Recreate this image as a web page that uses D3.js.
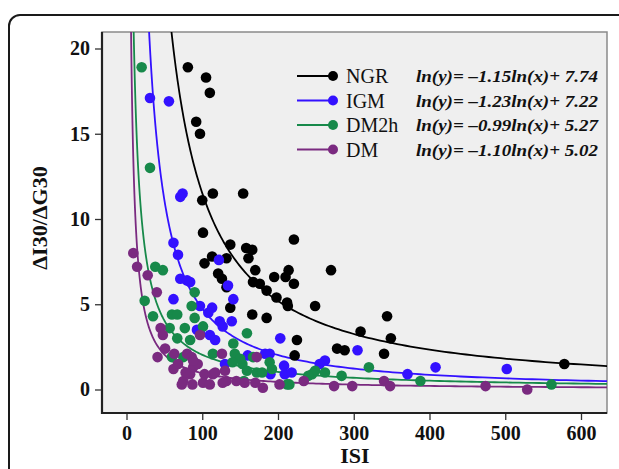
<!DOCTYPE html>
<html><head><meta charset="utf-8">
<script src="https://cdn.jsdelivr.net/npm/d3@7"></script>
<style>body{margin:0;background:#fff}svg{display:block}</style>
</head><body><svg id="c" width="619" height="469"></svg>
<script>
const seriesNames = ["NGR","IGM","DM2h","DM"];
const seriesColors = ["#000000","#3311ff","#17894a","#7a2a80"];
const fitSlope = [-1.15,-1.23,-0.99,-1.10];
const fitIntercept = [7.74,7.22,5.27,5.02];
const equations = ["ln(y)= \u20131.15ln(x)+ 7.74","ln(y)= \u20131.23ln(x)+ 7.22","ln(y)= \u20130.99ln(x)+ 5.27","ln(y)= \u20131.10ln(x)+ 5.02"];
const xTicks = [0,100,200,300,400,500,600];
const yTicks = [0,5,10,15,20];

const ngrX = [81,105,110,92,97,114,154,100,101,137,158,166,221,113,132,161,103,121,126,132,170,167,176,185,195,210,214,221,198,212,137,166,185,213,249,270,344,309,349,225,222,278,288,340,578];
const ngrY = [18.9,18.3,17.4,15.7,15.0,11.5,11.5,11.1,9.2,8.5,8.3,8.2,8.8,7.8,7.7,7.7,7.4,6.8,6.5,6.0,7.0,6.3,6.2,5.8,6.6,6.6,7.0,6.2,5.4,5.1,4.8,4.4,4.2,4.9,4.9,7.0,4.3,3.4,3.0,2.9,2.0,2.4,2.3,2.1,1.5];

const igmX = [31,56,74,71,62,68,122,71,80,84,134,62,141,97,113,108,123,139,127,97,110,117,93,203,189,160,190,209,130,305,408,502,371,262,255,208,218,183];
const igmY = [17.1,16.9,11.5,11.3,8.6,7.9,7.6,6.5,6.4,6.3,6.1,5.3,5.3,4.9,4.8,4.5,4.0,4.0,3.7,3.3,3.2,2.9,3.5,3.0,2.1,2.0,0.9,0.9,1.5,2.3,1.3,1.2,0.9,1.7,1.5,1.4,1.0,2.1];

const dm2hX = [20,31,38,48,24,35,60,67,86,90,90,57,77,101,67,84,159,60,75,114,141,143,153,167,172,189,192,155,212,150,159,179,140,320,262,284,245,249,240,388,561,215];
const dm2hY = [18.9,13.0,7.2,7.0,5.2,4.3,4.4,4.4,4.9,5.7,4.2,3.6,3.6,3.7,3.0,2.9,3.3,1.9,1.9,2.1,2.7,2.1,1.5,1.9,1.0,1.6,1.2,0.5,0.3,1.8,1.1,1.0,1.6,1.3,1.0,0.8,0.9,1.1,0.8,0.5,0.3,0.3];

const dmX = [9,14,28,40,45,48,51,41,63,62,68,80,75,86,88,84,94,103,101,73,114,126,132,145,156,172,180,202,97,88,117,130,127,170,87,234,274,298,340,348,474,529,78,110];
const dmY = [8.0,7.2,6.7,5.7,3.6,3.2,2.4,1.9,2.1,1.2,1.5,2.1,0.5,1.9,1.3,0.9,1.5,0.9,0.4,0.3,0.9,2.1,0.5,0.5,0.4,1.9,0.1,0.3,3.2,1.7,1.0,1.1,0.4,0.4,0.3,0.5,0.2,0.2,0.5,0.2,0.2,0.0,1.0,0.3];

const seriesX = [ngrX, igmX, dm2hX, dmX];
const seriesY = [ngrY, igmY, dm2hY, dmY];

const svg = d3.select("#c");
const L = 102, R = 607, T = 32, B = 413;
const x = d3.scaleLinear().domain([0,600]).range([126.5,581]);
const y = d3.scaleLinear().domain([0,20]).range([389.5,48.5]);

// outer frame
svg.append("rect").attr("x",9).attr("y",15).attr("width",700).attr("height",600)
  .attr("rx",11).attr("fill","none").attr("stroke","#1a1a1a").attr("stroke-width",2);

// panel
svg.append("rect").attr("x",L).attr("y",T).attr("width",R-L).attr("height",B-T)
  .attr("fill","#efefef").attr("stroke","#8a8a8a").attr("stroke-width",1.5);

svg.append("defs").append("clipPath").attr("id","clip")
  .append("rect").attr("x",L).attr("y",T).attr("width",R-L).attr("height",B-T);

const plot = svg.append("g").attr("clip-path","url(#clip)");
const xs = d3.range(0,400).map(i => Math.exp(i/399*Math.log(640)));
const line = d3.line().x(d=>x(d[0])).y(d=>y(d[1]));

seriesNames.forEach((n,i) => {
  const pts = xs.map(v => [v, Math.exp(fitIntercept[i] + fitSlope[i]*Math.log(v))]).filter(d=>d[1]<60);
  plot.append("path").attr("d", line(pts)).attr("fill","none")
    .attr("stroke", seriesColors[i]).attr("stroke-width",1.8);
});
seriesNames.forEach((n,i) => {
  plot.append("g").selectAll("circle").data(seriesX[i].map((v,k)=>[v,seriesY[i][k]]))
    .join("circle").attr("cx",d=>x(d[0])).attr("cy",d=>y(d[1])).attr("r",5.3)
    .attr("fill",seriesColors[i]);
});

// axes
const xAxis = svg.append("g").attr("transform",`translate(0,${B})`)
  .call(d3.axisBottom(x).tickValues(xTicks).tickSize(7).tickPadding(6));
const yAxis = svg.append("g").attr("transform",`translate(${L},0)`)
  .call(d3.axisLeft(y).tickValues(yTicks).tickSize(7).tickPadding(5));
[xAxis,yAxis].forEach(a => {
  a.select(".domain").remove();
  a.selectAll(".tick line").attr("stroke","#333").attr("stroke-width",1.3);
  a.selectAll(".tick text").attr("font-family","Liberation Serif").attr("font-weight","bold")
    .attr("font-size",20).attr("fill","#111");
});
svg.append("line").attr("x1",L).attr("x2",L).attr("y1",T).attr("y2",B+1).attr("stroke","#222").attr("stroke-width",2.2);
svg.append("line").attr("x1",L-1).attr("x2",R).attr("y1",B).attr("y2",B).attr("stroke","#222").attr("stroke-width",2.2);

// axis titles
svg.append("text").attr("x",355).attr("y",463).attr("text-anchor","middle")
  .attr("font-family","Liberation Serif").attr("font-weight","bold").attr("font-size",22).attr("fill","#111").text("ISI");
svg.append("text").attr("transform","translate(47,218) rotate(-90)").attr("text-anchor","middle")
  .attr("font-family","Liberation Serif").attr("font-weight","bold").attr("font-size",22).attr("fill","#111").text("\u0394I30/\u0394G30");

// legend
const lg = svg.append("g");
seriesNames.forEach((n,i) => {
  const yy = 76 + i*24.5;
  lg.append("line").attr("x1",297).attr("x2",330).attr("y1",yy).attr("y2",yy).attr("stroke",seriesColors[i]).attr("stroke-width",1.8);
  lg.append("circle").attr("cx",333).attr("cy",yy).attr("r",5).attr("fill",seriesColors[i]);
  lg.append("text").attr("x",346).attr("y",yy+7).attr("font-family","Liberation Serif")
    .attr("font-size",20).attr("fill","#111").text(n);
  lg.append("text").attr("x",416).attr("y",yy+6).attr("font-family","Liberation Serif")
    .attr("font-weight","bold").attr("font-style","italic").attr("font-size",17).attr("fill","#111")
    .attr("textLength",182).attr("lengthAdjust","spacingAndGlyphs").text(equations[i]);
});
</script></body></html>
